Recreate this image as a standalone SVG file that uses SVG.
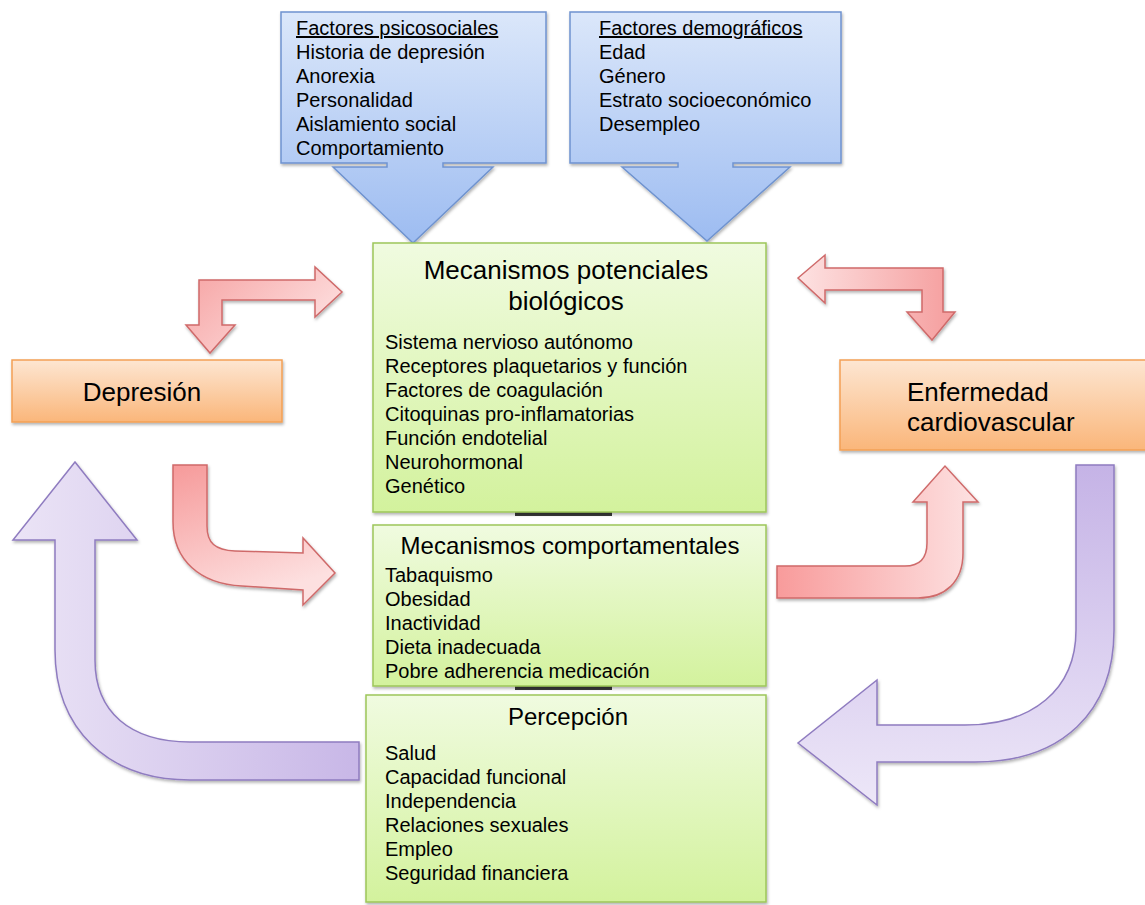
<svg xmlns="http://www.w3.org/2000/svg" width="1145" height="905" viewBox="0 0 1145 905">
<defs>
<linearGradient id="gBlue" x1="0" y1="0" x2="0" y2="1"><stop offset="0" stop-color="#dbe7fa"/><stop offset="1" stop-color="#9dbcf1"/></linearGradient>
<linearGradient id="gGreen" x1="0" y1="0" x2="0" y2="1"><stop offset="0" stop-color="#f0fbe0"/><stop offset="1" stop-color="#d3f29d"/></linearGradient>
<linearGradient id="gOrange" x1="0" y1="0" x2="0" y2="1"><stop offset="0" stop-color="#fde6d2"/><stop offset="1" stop-color="#fab67a"/></linearGradient>
<linearGradient id="gRedA" x1="0" y1="0" x2="1" y2="0.6"><stop offset="0" stop-color="#f6a2a2"/><stop offset="1" stop-color="#fde0e0"/></linearGradient>
<linearGradient id="gRedB" x1="0" y1="0" x2="1" y2="0"><stop offset="0" stop-color="#fde2e2"/><stop offset="1" stop-color="#f59d9d"/></linearGradient>
<linearGradient id="gRedC" x1="0" y1="0" x2="0.4" y2="1"><stop offset="0" stop-color="#f69a9a"/><stop offset="1" stop-color="#fde0e0"/></linearGradient>
<linearGradient id="gRedD" x1="0" y1="0" x2="1" y2="0"><stop offset="0" stop-color="#f89b9b"/><stop offset="1" stop-color="#fde2e2"/></linearGradient>
<linearGradient id="gPurE" x1="0" y1="0" x2="1" y2="0"><stop offset="0" stop-color="#ebe4f6"/><stop offset="1" stop-color="#c8b7e7"/></linearGradient>
<linearGradient id="gPurF" x1="0" y1="0" x2="0" y2="1"><stop offset="0" stop-color="#c5b3e6"/><stop offset="1" stop-color="#ede7f8"/></linearGradient>
<filter id="sh" x="-10%" y="-10%" width="120%" height="130%"><feDropShadow dx="1" dy="2" stdDeviation="1.5" flood-color="#000" flood-opacity="0.3"/></filter>
</defs>
<style>
text{font-family:"Liberation Sans",Arial,sans-serif;fill:#000;}
.t20{font-size:20px;}
.t24{font-size:24px;}
.t26{font-size:26px;}
.mid{text-anchor:middle;}
.blue{fill:url(#gBlue);stroke:#6f93cf;stroke-width:1.5;}
.green{fill:url(#gGreen);stroke:#9dc65a;stroke-width:1.5;}
.orange{fill:url(#gOrange);stroke:#f3a055;stroke-width:1.5;}
.red{stroke:#cf6a6a;stroke-width:1.5;}
.pur{stroke:#8f7cc0;stroke-width:1.5;}
.bar{fill:#3a3a3a;}
</style>
<rect width="1145" height="905" fill="#fff"/>

<g id="connectors">
<path id="arrowA" class="red" fill="url(#gRedA)" filter="url(#sh)" d="M199,280 L315,280 L315,267 L342,292 L315,317 L315,300 L222,300 L222,325 L235,325 L210,353 L186,325 L199,325 Z"/>
<path id="arrowB" class="red" fill="url(#gRedB)" filter="url(#sh)" d="M798,278 L825,255 L825,268 L943,268 L943,312 L955,312 L932,340 L907,312 L922,312 L922,290 L825,290 L825,303 Z"/>
<path id="arrowC" class="red" fill="url(#gRedC)" filter="url(#sh)" d="M173,465 L207,465 L207,526 C207,543 215,550 235,551 L303,553 L303,538 L335,573 L303,605 L303,590 L242,586 C200,584 173,560 173,522 Z"/>
<path id="arrowD" class="red" fill="url(#gRedD)" filter="url(#sh)" d="M777,566 L905,566 C920,566 927,558 927,543 L927,502 L913,502 L945,466 L978,502 L963,502 L963,553 C963,582 945,598 918,598 L777,598 Z"/>
<path id="arrowE" class="pur" fill="url(#gPurE)" filter="url(#sh)" d="M75,462 L137,540 L95,540 L95,660 C95,712 130,742 190,742 L359,742 L359,780 L190,780 C107,780 55,728 55,650 L55,540 L13,540 Z"/>
<path id="arrowF" class="pur" fill="url(#gPurF)" filter="url(#sh)" d="M1076,465 L1114,465 L1114,630 C1114,712 1062,762 975,762 L877,762 L877,805 L798,743 L877,680 L877,725 L965,725 C1032,725 1076,690 1076,630 Z"/>
<rect class="bar" x="515" y="508" width="97" height="8"/>
<rect class="bar" x="515" y="682" width="97" height="8"/>
</g>

<g id="psicosociales">
<path class="blue" filter="url(#sh)" d="M281,12 L546,12 L546,163 L443,163 L443,167 L493,167 L413,243 L333,167 L387,167 L387,163 L281,163 Z"/>
<text class="t20" x="296" y="35" text-decoration="underline">Factores psicosociales</text>
<text class="t20" x="296" y="59">Historia de depresión</text>
<text class="t20" x="296" y="83">Anorexia</text>
<text class="t20" x="296" y="107">Personalidad</text>
<text class="t20" x="296" y="131">Aislamiento social</text>
<text class="t20" x="296" y="155">Comportamiento</text>
</g>

<g id="demograficos">
<path class="blue" filter="url(#sh)" d="M570,12 L841,12 L841,163 L733,163 L733,167 L790,167 L707,241 L622,167 L678,167 L678,163 L570,163 Z"/>
<text class="t20" x="599" y="35" text-decoration="underline">Factores demográficos</text>
<text class="t20" x="599" y="59">Edad</text>
<text class="t20" x="599" y="83">Género</text>
<text class="t20" x="599" y="107">Estrato socioeconómico</text>
<text class="t20" x="599" y="131">Desempleo</text>
</g>

<g id="biologicos">
<rect class="green" filter="url(#sh)" x="373" y="243" width="393" height="269"/>
<text class="t26 mid" x="566" y="279">Mecanismos potenciales</text>
<text class="t26 mid" x="566" y="310">biológicos</text>
<text class="t20" x="385" y="349">Sistema nervioso autónomo</text>
<text class="t20" x="385" y="373">Receptores plaquetarios y función</text>
<text class="t20" x="385" y="397">Factores de coagulación</text>
<text class="t20" x="385" y="421">Citoquinas pro-inflamatorias</text>
<text class="t20" x="385" y="445">Función endotelial</text>
<text class="t20" x="385" y="469">Neurohormonal</text>
<text class="t20" x="385" y="493">Genético</text>
</g>

<g id="comportamentales">
<rect class="green" filter="url(#sh)" x="373" y="525" width="393" height="161"/>
<text class="t24 mid" x="570" y="554">Mecanismos comportamentales</text>
<text class="t20" x="385" y="582">Tabaquismo</text>
<text class="t20" x="385" y="606">Obesidad</text>
<text class="t20" x="385" y="630">Inactividad</text>
<text class="t20" x="385" y="654">Dieta inadecuada</text>
<text class="t20" x="385" y="678">Pobre adherencia medicación</text>
</g>

<g id="percepcion">
<rect class="green" filter="url(#sh)" x="366" y="695" width="400" height="207"/>
<text class="t24 mid" x="568" y="725">Percepción</text>
<text class="t20" x="385" y="760">Salud</text>
<text class="t20" x="385" y="784">Capacidad funcional</text>
<text class="t20" x="385" y="808">Independencia</text>
<text class="t20" x="385" y="832">Relaciones sexuales</text>
<text class="t20" x="385" y="856">Empleo</text>
<text class="t20" x="385" y="880">Seguridad financiera</text>
</g>

<g id="depresion">
<rect class="orange" filter="url(#sh)" x="12" y="360" width="270" height="62"/>
<text class="t26 mid" x="142" y="401">Depresión</text>
</g>

<g id="enfermedad">
<rect class="orange" filter="url(#sh)" x="840" y="360" width="312" height="90"/>
<text class="t26" x="907" y="401">Enfermedad</text>
<text class="t26" x="907" y="431">cardiovascular</text>
</g>
</svg>
